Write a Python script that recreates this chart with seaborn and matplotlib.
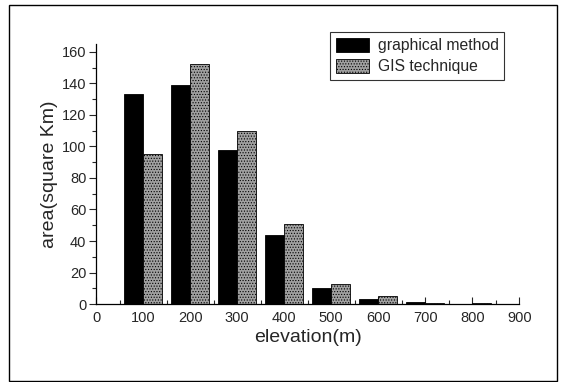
import matplotlib
matplotlib.use("Agg")
import matplotlib.pyplot as plt
import seaborn as sns
import pandas as pd
from matplotlib.ticker import MultipleLocator
from matplotlib.patches import Rectangle

elevation = [100, 200, 300, 400, 500, 600, 700, 800]
graphical = [133, 139, 98, 44, 10, 3.2, 1.0, 0.1]
gis = [95, 152, 109.5, 50.5, 12.5, 5.3, 0.8, 0.4]
series_names = ["graphical method", "GIS technique"]
xticks = [0, 100, 200, 300, 400, 500, 600, 700, 800, 900]
yticks = [0, 20, 40, 60, 80, 100, 120, 140, 160]

df = pd.DataFrame({
    "elevation": elevation * 2,
    "area": graphical + gis,
    "method": [series_names[0]] * len(elevation) + [series_names[1]] * len(elevation),
})

sns.set_style("white")
plt.rcParams["font.family"] = ["Liberation Sans", "DejaVu Sans"]
plt.rcParams["hatch.color"] = "#4a4a4a"
plt.rcParams["hatch.linewidth"] = 0.5

fig = plt.figure(figsize=(5.65, 3.82), dpi=100)
ax = fig.add_axes([0.170, 0.204, 0.749, 0.681])

sns.barplot(data=df, x="elevation", y="area", hue="method", native_scale=True,
            palette=["#000000", "#a0a0a0"], width=0.8, ax=ax,
            edgecolor="black", linewidth=0.6, saturation=1, errorbar=None,
            legend=False)

for bar in ax.containers[1]:
    bar.set_hatch("......")

ax.set_xlim(0, 900)
ax.set_ylim(0, 165)
ax.set_xticks(xticks)
ax.set_yticks(yticks)
ax.xaxis.set_minor_locator(MultipleLocator(50))
ax.yaxis.set_minor_locator(MultipleLocator(10))
ax.tick_params(axis="x", which="major", direction="in", length=5, width=0.8, labelsize=10.5, pad=5)
ax.tick_params(axis="x", which="minor", direction="in", length=3, width=0.8)
ax.tick_params(axis="y", which="major", direction="out", length=5, width=0.8, labelsize=10.5, pad=2, left=True)
ax.tick_params(axis="y", which="minor", direction="out", length=3, width=0.8, left=True)
ax.tick_params(axis="x", bottom=True, which="both")

for s in ["top", "right"]:
    ax.spines[s].set_visible(False)
for s in ["left", "bottom"]:
    ax.spines[s].set_color("black")
    ax.spines[s].set_linewidth(0.9)

ax.set_xlabel("elevation(m)", fontsize=14, labelpad=3)
ax.set_ylabel("area(square Km)", fontsize=14, labelpad=3)

handles = [Rectangle((0, 0), 1, 1, facecolor="#000000", edgecolor="black", linewidth=0.6),
           Rectangle((0, 0), 1, 1, facecolor="#a0a0a0", edgecolor="black", linewidth=0.6,
                     hatch="......")]
leg = ax.legend(handles, series_names, loc="upper right", bbox_to_anchor=(0.965, 1.045),
                fontsize=11.3, frameon=True, fancybox=False, edgecolor="black",
                handlelength=2.1, handleheight=1.05, handletextpad=0.6,
                borderpad=0.35, labelspacing=0.35, borderaxespad=0)
leg.get_frame().set_linewidth(0.8)

fig.patches.append(Rectangle((9 / 565, 1 / 382), 548 / 565, 376 / 382,
                             transform=fig.transFigure, fill=False,
                             edgecolor="black", linewidth=1.0))

fig.savefig("out.png", dpi=100)
